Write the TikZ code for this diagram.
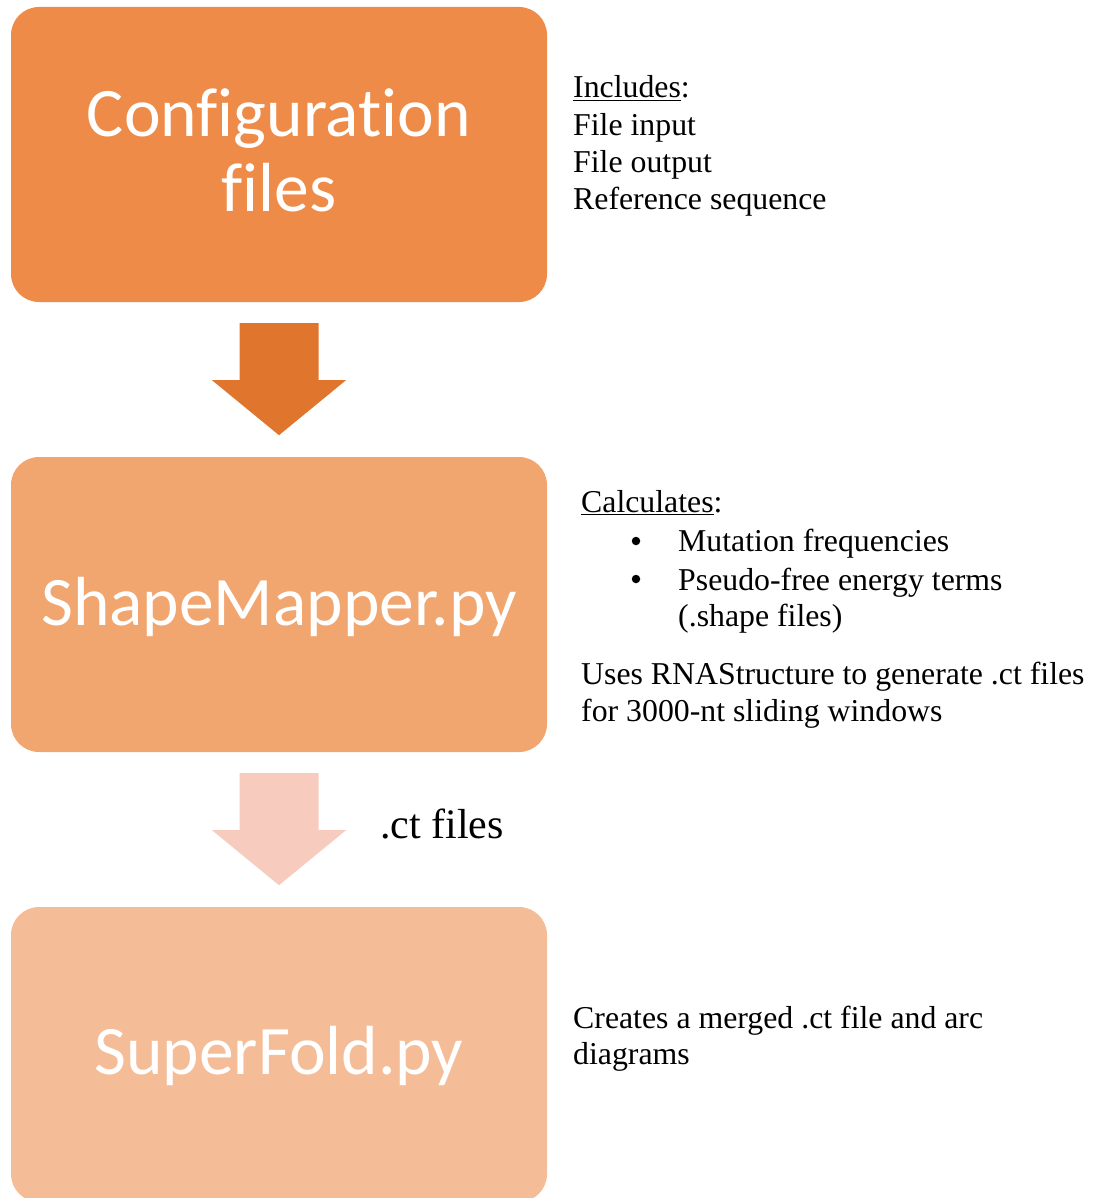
\documentclass[tikz,border=0pt]{standalone}
\usepackage{fontspec}
\setmainfont{Liberation Serif}
\newfontfamily\boxfont[Ligatures={NoCommon,NoRare,NoDiscretionary,NoContextual}]{Carlito}
\usetikzlibrary{calc}
\definecolor{cA}{HTML}{EF8B48}
\definecolor{cB}{HTML}{F1A56F}
\definecolor{cC}{HTML}{F5BD97}
\definecolor{aA}{HTML}{E0752E}
\definecolor{aB}{HTML}{F7CBBE}
\tikzset{
  stagebox/.style={rectangle, rounded corners=28pt, minimum width=536pt, minimum height=295pt, inner sep=0pt},
  boxtext/.style={text=white, font=\boxfont\fontsize{69.5}{76}\selectfont, align=center, inner sep=0pt, anchor=base},
  note/.style={font=\fontsize{31.8}{37}\selectfont, inner sep=0pt, anchor=base west, align=left},
  bul/.style={circle, fill=black, inner sep=0pt, minimum size=8.5pt},
}
\begin{document}
\begin{tikzpicture}[x=1pt,y=-1pt]
\useasboundingbox (0,0) rectangle (1100,1198);
\clip (0,0) rectangle (1100,1198);
% boxes
\node[stagebox, fill=cA] (b1) at (279,154.5) {};
\node[stagebox, fill=cB] (b2) at (279,604.5) {};
\node[stagebox, fill=cC] (b3) at (279,1054.5) {};
% box texts
\node[boxtext] (t1a) at (279,137) {Configuration};
\node[boxtext] (t1b) at (279,212) {files};
\node[boxtext] (t2) at (279,625) {ShapeMapper.py};
\node[boxtext] (t3) at (279,1074) {SuperFold.py};
% arrows
\fill[aA] ($(b1.south)+(-39.5,21)$) -- ++(79,0) -- ++(0,57) -- ++(27.5,0) -- ($(b1.south)+(0,133)$) -- ($(b1.south)+(-67,78)$) -- ++(27.5,0) -- cycle;
\fill[aB] ($(b2.south)+(-39.5,21)$) -- ++(79,0) -- ++(0,57) -- ++(27.5,0) -- ($(b2.south)+(0,133)$) -- ($(b2.south)+(-67,78)$) -- ++(27.5,0) -- cycle;
\node[font=\fontsize{42}{48}\selectfont, inner sep=0pt, anchor=base west] (ct) at (380,838) {.ct files};
% notes
\node[note] (n1a) at (573,98) {\underline{Includes}:};
\node[note] (n1b) at (573,136) {File input};
\node[note] (n1c) at (573,173) {File output};
\node[note] (n1d) at (573,210) {Reference sequence};
\node[note] (n2a) at (581,512) {\underline{Calculates}:};
\node[bul] (n2b) at (636,541) {};
\node[note] (n2c) at (678,551) {Mutation frequencies};
\node[bul] (n2d) at (636,579) {};
\node[note] (n2e) at (678,590) {Pseudo-free energy terms};
\node[note] (n2f) at (678,626) {(.shape files)};
\node[note] (n2g) at (581,684) {Uses RNAStructure to generate .ct files};
\node[note] (n2h) at (581,721) {for 3000-nt sliding windows};
\node[note] (n3a) at (573,1028) {Creates a merged .ct file and arc};
\node[note] (n3b) at (573,1064) {diagrams};
\end{tikzpicture}
\end{document}
